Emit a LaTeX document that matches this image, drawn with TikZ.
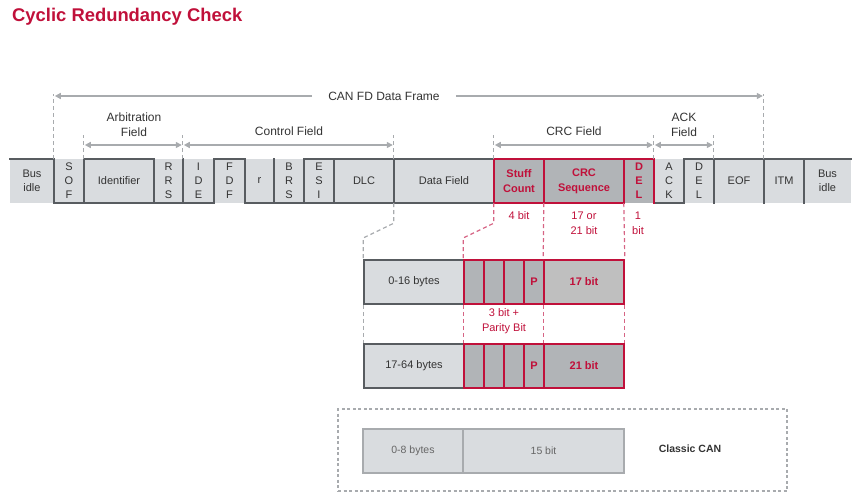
\documentclass[tikz,border=0pt]{standalone}
\usepackage{fontspec}
\setmainfont{Liberation Sans}
\usetikzlibrary{arrows.meta,calc}
\definecolor{crim}{RGB}{192,16,58}
\definecolor{crimd}{RGB}{214,100,132}
\definecolor{cellfill}{RGB}{217,220,223}
\definecolor{darkfill}{RGB}{177,180,183}
\definecolor{seventeen}{RGB}{191,191,191}
\definecolor{wavec}{RGB}{88,92,96}
\definecolor{guidec}{RGB}{168,171,174}
\definecolor{txt}{RGB}{51,51,51}
\definecolor{txtl}{RGB}{102,102,102}
\begin{document}
\begin{tikzpicture}[x=1pt,y=-1pt,
  cell/.style={fill=cellfill, inner sep=0pt, minimum height=44pt, text=txt, font=\fontsize{11}{14}\selectfont, align=center},
  rcell/.style={cell, fill=darkfill, text=crim, font=\bfseries\fontsize{11}{15}\selectfont},
  wave/.style={draw=wavec, line width=1.6pt, line cap=rect},
  rwave/.style={draw=crim, line width=1.6pt, line cap=rect},
  guide/.style={draw=guidec, line width=1.2pt, dash pattern=on 4pt off 3pt},
  rguide/.style={draw=crimd, line width=1.2pt, dash pattern=on 4pt off 3pt},
  bracket/.style={draw=guidec, line width=1.5pt},
  tipend/.style={-{Triangle[length=6pt,width=6pt]}, shorten >=1pt},
  tipboth/.style={{Triangle[length=6pt,width=6pt]}-{Triangle[length=6pt,width=6pt]}, shorten <=1pt, shorten >=1pt},
  lbl/.style={text=txt, font=\fontsize{12}{15}\selectfont, align=center, inner sep=1pt},
  rlbl/.style={text=crim, font=\fontsize{11}{15}\selectfont, align=center, inner sep=1pt},
  bcell/.style={cell, draw=wavec, line width=1.6pt},
  scell/.style={cell, fill=darkfill, draw=crim, line width=1.6pt, text=crim, font=\bfseries\fontsize{11}{14}\selectfont},
  ccell/.style={fill=cellfill, draw=guidec, line width=1.5pt, inner sep=0pt, minimum height=44pt, text=txtl, font=\fontsize{10.5}{14}\selectfont}
]
\useasboundingbox (0,0) rectangle (854,498);

% title
\node[anchor=base west, inner sep=0pt, text=crim, font=\bfseries\fontsize{18.4}{22}\selectfont] (title) at (12,21) {Cyclic Redundancy Check};

% frame cells
\node[cell, minimum width=44pt] (busA) at (32,181) {Bus\\idle};
\node[cell, minimum width=30pt] (sof) at (69,181) {S\\O\\F};
\node[cell, minimum width=70pt] (id) at (119,181) {Identifier};
\node[cell, minimum width=29pt] (rrs) at (168.5,181) {R\\R\\S};
\node[cell, minimum width=31pt] (ide) at (198.5,181) {I\\D\\E};
\node[cell, minimum width=31pt] (fdf) at (229.5,181) {F\\D\\F};
\node[cell, minimum width=29pt] (r) at (259.5,181) {r};
\node[cell, minimum width=30pt] (brs) at (289,181) {B\\R\\S};
\node[cell, minimum width=30pt] (esi) at (319,181) {E\\S\\I};
\node[cell, minimum width=60pt] (dlc) at (364,181) {DLC};
\node[cell, minimum width=100pt] (data) at (444,181) {Data Field};
\node[rcell, minimum width=50pt] (stuff) at (519,181) {Stuff\\Count};
\node[rcell, minimum width=80pt] (crc) at (584,181) {CRC\\Sequence};
\node[rcell, minimum width=30pt, font=\bfseries\fontsize{11}{14}\selectfont] (del) at (639,181) {D\\E\\L};
\node[cell, minimum width=30pt] (ack) at (669,181) {A\\C\\K};
\node[cell, minimum width=30pt] (adel) at (699,181) {D\\E\\L};
\node[cell, minimum width=50pt] (eof) at (739,181) {EOF};
\node[cell, minimum width=40pt] (itm) at (784,181) {ITM};
\node[cell, minimum width=47pt] (busB) at (827.5,181) {Bus\\idle};

% waveform: top lines
\foreach \c in {busA,id,fdf,esi,dlc,data,adel,eof,itm,busB}
  \draw[wave] (\c.north west) -- (\c.north east);
% bottom lines
\foreach \c in {sof,id,rrs,ide,r,brs,esi,dlc,data,ack}
  \draw[wave] (\c.south west) -- (\c.south east);
% separators
\foreach \c in {sof,id,rrs,ide,fdf,r,brs,esi,dlc,data,adel,eof,itm,busB}
  \draw[wave] (\c.north west) -- (\c.south west);
% red part
\draw[rwave] (stuff.north west) -- (del.north east);
\draw[rwave] (stuff.south west) -- (crc.south east);
\foreach \c in {stuff,crc,del}
  \draw[rwave] (\c.north west) -- (\c.south west);
\draw[rwave] (del.north east) -- (del.south east);

% upper labels
\node[lbl, inner xsep=16pt] (canfd) at (384,96) {CAN FD Data Frame};
\node[lbl] (arbl) at (134,124.5) {Arbitration\\Field};
\node[lbl] (ctrl) at (289,131) {Control Field};
\node[lbl] (crcl) at (574,131) {CRC Field};
\node[lbl] (ackl) at (684,124.5) {ACK\\Field};
\coordinate (by) at (0,145);

% brackets
\draw[bracket, tipend] (canfd.west) -- (sof.north west |- canfd);
\draw[bracket, tipend] (canfd.east) -- (itm.north west |- canfd);
\draw[bracket, tipboth] (id.north west |- by) -- (ide.north west |- by);
\draw[bracket, tipboth] (ide.north west |- by) -- (data.north west |- by);
\draw[bracket, tipboth] (stuff.north west |- by) -- (ack.north west |- by);
\draw[bracket, tipboth] (ack.north west |- by) -- (eof.north west |- by);

% guides above the frame
\draw[guide] (sof.north west) -- ($(sof.north west |- canfd)+(0,-2)$);
\draw[guide] (itm.north west) -- ($(itm.north west |- canfd)+(0,-2)$);
\foreach \c in {id,ide,data,stuff,ack,eof}
  \draw[guide] (\c.north west) -- (\c.north west |- 0,135);

% CRC variants
\node[bcell, minimum width=100pt] (b1) at (414,282) {0-16 bytes};
\node[scell, minimum width=20pt] (s1a) at (474,282) {};
\node[scell, minimum width=20pt] (s1b) at (494,282) {};
\node[scell, minimum width=20pt] (s1c) at (514,282) {};
\node[scell, minimum width=20pt] (s1p) at (534,282) {P};
\node[scell, minimum width=80pt, fill=seventeen] (c1) at (584,282) {17 bit};

\node[bcell, minimum width=100pt] (b2) at (414,366) {17-64 bytes};
\node[scell, minimum width=20pt] (s2a) at (474,366) {};
\node[scell, minimum width=20pt] (s2b) at (494,366) {};
\node[scell, minimum width=20pt] (s2c) at (514,366) {};
\node[scell, minimum width=20pt] (s2p) at (534,366) {P};
\node[scell, minimum width=80pt] (c2) at (584,366) {21 bit};

% guides below the frame
\draw[guide] (data.south west) -- ++(0,20) -- (b1.north west |- 0,238) -- (b1.north west);
\draw[guide] (b1.south west) -- (b2.north west);
\draw[rguide] (stuff.south west) -- ++(0,20) -- (s1a.north west |- 0,238) -- (s1a.north west);
\draw[rguide] (s1a.south west) -- (s2a.north west);
\draw[rguide] (crc.south west) -- (c1.north west);
\draw[rguide] (c1.south west) -- (c2.north west);
\draw[rguide] (del.south west) -- (c1.north east);
\draw[rguide] (c1.south east) -- (c2.north east);

\node[rlbl] (l4) at (519,216) {4 bit};
\node[rlbl] (l17) at (584,223.5) {17 or\\21 bit};
\node[rlbl] (l1) at (638,223.5) {1\\bit};
\node[rlbl] (l3) at (504,321) {3 bit +\\Parity Bit};

% classic CAN
\node[draw=guidec, line width=1.2pt, dash pattern=on 3pt off 2.5pt, minimum width=449pt, minimum height=82pt, inner sep=0pt] (classic) at (562.5,450) {};
\node[ccell, minimum width=100pt] (cc8) at (413,451) {0-8 bytes};
\node[ccell, minimum width=161pt] (cc15) at (543.5,451) {15 bit};
\node[text=txt, font=\bfseries\fontsize{10.5}{14}\selectfont] (cl) at (690,449) {Classic CAN};
\end{tikzpicture}
\end{document}
